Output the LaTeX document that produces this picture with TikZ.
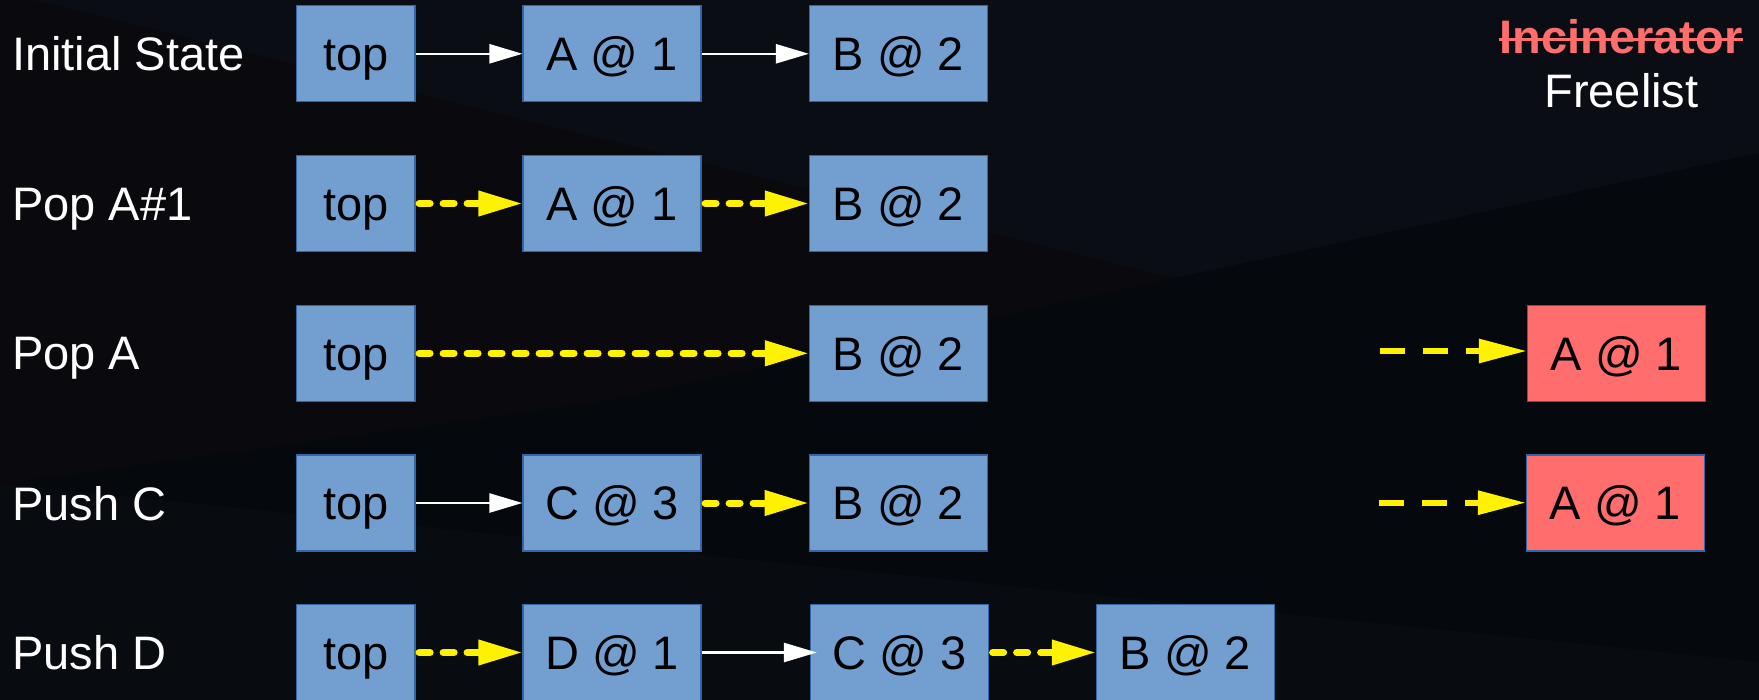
\documentclass[tikz,border=0pt]{standalone}
\usepackage{fontspec}
\setmainfont{Liberation Sans}
\usetikzlibrary{arrows.meta}

\definecolor{cellblue}{HTML}{729FCF}
\definecolor{celledge}{HTML}{3465A4}
\definecolor{freed}{HTML}{FF6D6D}
\definecolor{bgtop}{HTML}{0A0D13}
\definecolor{bgleft}{HTML}{0A0A0E}
\definecolor{bgmid}{HTML}{05080C}
\definecolor{bglow}{HTML}{080C10}

\begin{document}
\begin{tikzpicture}[x=1pt, y=-1pt,
  cell/.style={rectangle, fill=cellblue, draw=celledge, line width=1.2pt,
    minimum height=96pt, minimum width=178pt, inner sep=0pt,
    text height=33.7pt, text depth=0pt, text=black,
    font=\fontsize{47}{54}\selectfont},
  topcell/.style={cell, minimum width=118.5pt},
  freecell/.style={cell, fill=freed},
  rowlabel/.style={anchor=base west, inner sep=0pt, text=white,
    font=\fontsize{47}{54}\selectfont},
  link/.style={white, line width=2.5pt, -{Triangle[length=33pt,width=19pt]}},
  changed/.style={yellow, line width=7pt, line cap=round,
    dash pattern=on 11pt off 13pt, shorten <=3.5pt,
    -{Triangle[length=44pt,width=24pt]}},
  tofree/.style={yellow, line width=6pt, dash pattern=on 24.5pt off 18.5pt,
    -{Triangle[length=48pt,width=23pt]}},
]
\useasboundingbox (0,0) rectangle (1759,700);

% dark faceted backdrop
\fill[bgtop] (0,0) rectangle (1759,700);
\fill[bgleft] (0,0) -- (32,0) -- (1174,278) -- (988,319)
  -- (600,402) -- (0,484) -- cycle;
\fill[bgmid] (0,484) -- (600,402) -- (988,319) -- (1174,278) -- (1759,153)
  -- (1759,662) -- cycle;
\fill[bglow] (0,484) -- (1759,662) -- (1759,700) -- (0,700) -- cycle;

% row captions
\node[rowlabel] (l1) at (12,70.7) {Initial State};
\node[rowlabel] (l2) at (12,220.4) {Pop A\#1};
\node[rowlabel] (l3) at (12,370) {Pop A};
\node[rowlabel] (l4) at (12,520) {Push C};
\node[rowlabel] (l5) at (12,669.5) {Push D};

% freelist heading
\node[anchor=base, inner sep=0pt, text=freed,
  font=\fontsize{47}{54}\selectfont\bfseries] (inc) at (1621,53.3) {Incinerator};
\draw[freed, line width=3.3pt] ([yshift=14pt]inc.base west) -- ([yshift=14pt]inc.base east);
\node[anchor=base, inner sep=0pt, text=white,
  font=\fontsize{47}{54}\selectfont] (fl) at (1621.5,107.3) {Freelist};

% Initial State
\node[topcell] (t1) at (355.75,53.8) {top};
\node[cell] (a1) at (612,53.8) {A @ 1};
\node[cell] (b1) at (898.5,53.8) {B @ 2};
\draw[link] (t1.east) -- (a1.west);
\draw[link] (a1.east) -- (b1.west);

% Pop A#1
\node[topcell] (t2) at (355.75,203.5) {top};
\node[cell] (a2) at (612,203.5) {A @ 1};
\node[cell] (b2) at (898.5,203.5) {B @ 2};
\draw[changed] (t2.east) -- (a2.west);
\draw[changed] (a2.east) -- (b2.west);

% Pop A
\node[topcell] (t3) at (355.75,353.3) {top};
\node[cell] (b3) at (898.5,353.3) {B @ 2};
\node[freecell] (f3) at (1616.5,353.3) {A @ 1};
\coordinate (s3) at (1380,351);
\draw[changed] (t3.east) -- (b3.west);
\draw[tofree] (s3) -- (s3 -| f3.west);

% Push C
\node[topcell] (t4) at (355.75,503) {top};
\node[cell] (c4) at (612,503) {C @ 3};
\node[cell] (b4) at (898.3,503) {B @ 2};
\node[freecell] (f4) at (1615.5,503) {A @ 1};
\coordinate (s4) at (1379,502.7);
\draw[link] (t4.east) -- (c4.west);
\draw[changed] (c4.east) -- (b4.west);
\draw[tofree] (s4) -- (s4 -| f4.west);

% Push D
\node[topcell] (t5) at (355.75,652.5) {top};
\node[cell] (d5) at (612,652.5) {D @ 1};
\node[cell] (c5) at (899.5,652.5) {C @ 3};
\node[cell] (b5) at (1185.5,652.5) {B @ 2};
\draw[changed] (t5.east) -- (d5.west);
\draw[link, shorten >=-7pt] (d5.east) -- (c5.west);
\draw[changed] (c5.east) -- (b5.west);
\end{tikzpicture}
\end{document}
